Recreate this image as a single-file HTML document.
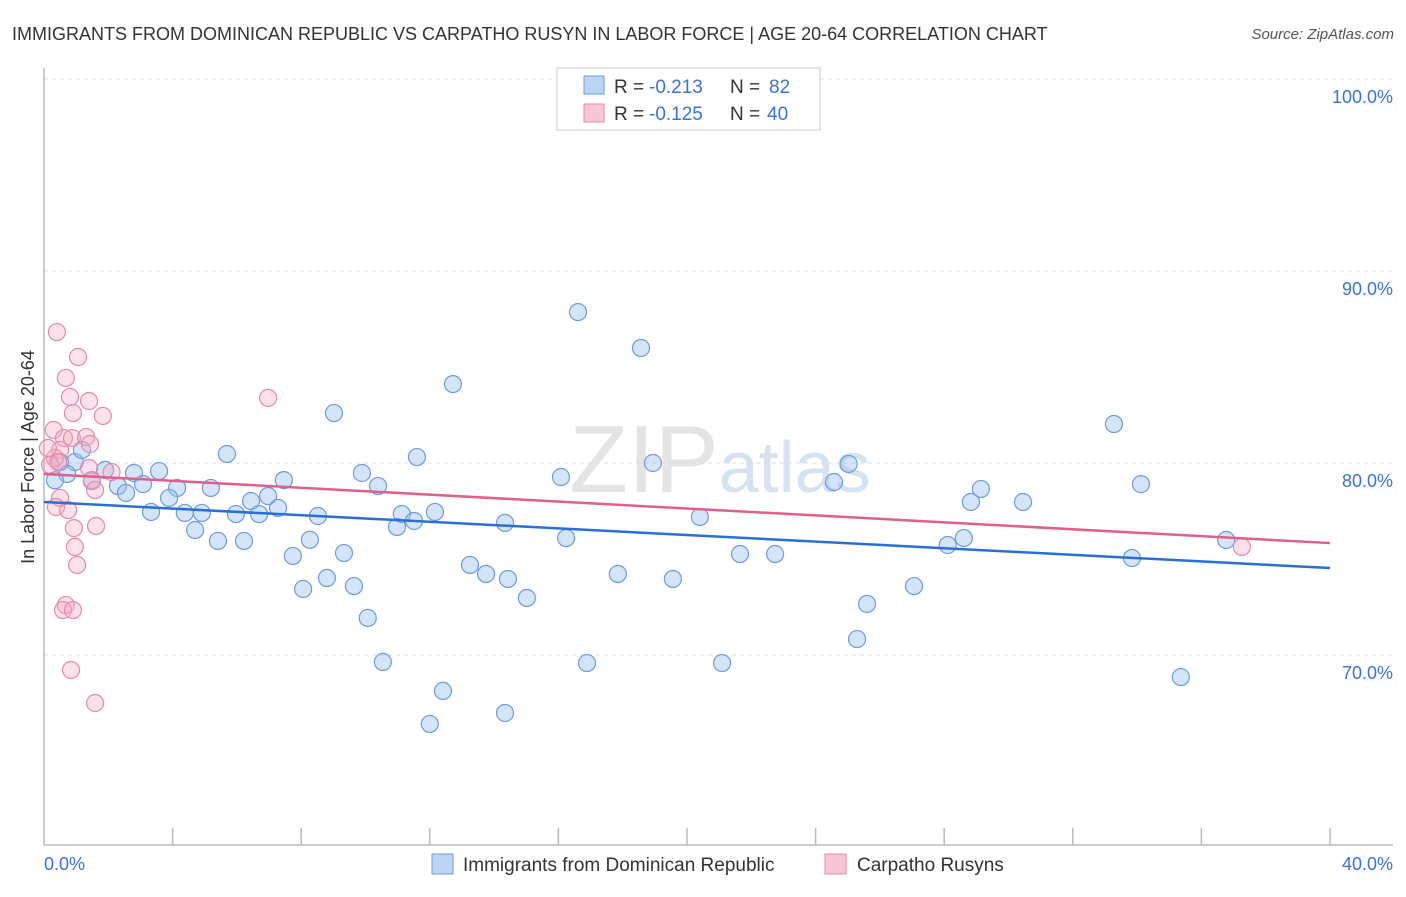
<!DOCTYPE html>
<html><head><meta charset="utf-8"><style>
body{margin:0;background:#fff;font-family:"Liberation Sans",sans-serif}
svg text{font-family:"Liberation Sans",sans-serif}
</style></head><body>
<svg width="1406" height="892">
<text x="12" y="40" font-size="18" fill="#333">IMMIGRANTS FROM DOMINICAN REPUBLIC VS CARPATHO RUSYN IN LABOR FORCE | AGE 20-64 CORRELATION CHART</text>
<text x="1394" y="39" font-size="15" fill="#555" font-style="italic" text-anchor="end">Source: ZipAtlas.com</text>
<text x="720" y="492" font-size="96" fill="#e4e4e4" text-anchor="middle" font-family="Liberation Serif">ZIP<tspan fill="#d6e2f2" font-family="Liberation Sans" font-size="72">atlas</tspan></text>
<g id="grid"></g>
<g id="axes"></g>
<text transform="translate(34,457) rotate(-90)" font-size="18" fill="#333" text-anchor="middle">In Labor Force | Age 20-64</text>
<text x="44" y="870" font-size="18" fill="#3b74d4">0.0%</text>
<text x="1393" y="870" font-size="18" fill="#3b74d4" text-anchor="end">40.0%</text>
<g id="pts"></g>
<g id="lines"></g>
<g>
<rect x="557" y="68" width="263" height="62" fill="#fff" stroke="#ccc"/>
<rect x="584" y="76" width="20" height="18" fill="#bcd4f4" stroke="#6d9be0"/>
<rect x="584" y="104" width="20" height="18" fill="#f9c6d5" stroke="#e88aa8"/>
<text x="614" y="93" font-size="19" fill="#333">R =</text>
<text x="649" y="93" font-size="19" fill="#3b74d4">-0.213</text>
<text x="730" y="93" font-size="19" fill="#333">N =</text>
<text x="769" y="93" font-size="19" fill="#3b74d4">82</text>
<text x="614" y="120" font-size="19" fill="#333">R =</text>
<text x="649" y="120" font-size="19" fill="#3b74d4">-0.125</text>
<text x="730" y="120" font-size="19" fill="#333">N =</text>
<text x="767" y="120" font-size="19" fill="#3b74d4">40</text>
</g>
<g>
<rect x="432" y="854" width="21" height="20" fill="#bcd4f4" stroke="#6d9be0"/>
<text x="463" y="871" font-size="19" fill="#333">Immigrants from Dominican Republic</text>
<rect x="825" y="854" width="21" height="20" fill="#f9c6d5" stroke="#e88aa8"/>
<text x="857" y="871" font-size="19" fill="#333">Carpatho Rusyns</text>
</g>
</svg>
<script>
const yTicks=[100,90,80,70];
const yTickLabels=["100.0%","90.0%","80.0%","70.0%"];
const xTicks=[4,8,12,16,20,24,28,32,36,40];
const blueX=[16.61,18.57,12.72,9.02,33.28,5.69,11.6,18.94,25.03,0.5,0.96,1.18,1.9,2.8,3.58,0.72,9.89,16.08,7.46,1.49,2.3,3.08,4.14,5.19,24.57,34.12,10.39,29.14,2.55,3.89,6.97,6.44,30.45,28.83,7.28,3.33,4.38,4.91,5.97,6.69,11.13,12.16,8.52,20.4,14.34,11.51,10.98,4.7,16.24,5.41,6.22,8.27,28.61,28.11,36.77,7.74,9.33,21.65,22.74,33.84,13.25,13.75,8.8,14.43,17.85,19.56,9.64,8.06,27.06,15.02,25.6,10.07,25.29,10.54,16.89,21.09,35.36,12.41,14.34,12.0,0.34];
const blueY=[87.86,85.99,84.11,82.6,82.03,80.47,80.31,80.0,79.95,80.05,80.05,80.68,79.64,79.48,79.58,79.43,79.48,79.27,79.11,79.06,78.8,78.9,78.7,78.7,79.01,78.9,78.8,78.65,78.44,78.18,78.28,78.02,77.97,77.97,77.66,77.45,77.4,77.4,77.34,77.34,77.34,77.45,77.24,77.19,76.88,76.98,76.67,76.51,76.09,75.94,75.94,76.0,76.09,75.73,75.99,75.16,75.31,75.26,75.26,75.05,74.69,74.22,74.01,73.96,74.22,73.96,73.59,73.44,73.59,72.97,72.66,71.93,70.83,69.64,69.58,69.58,68.85,68.13,66.98,66.41,79.1];
const pinkX=[0.4,1.06,0.68,0.81,1.4,6.97,0.9,1.83,0.3,0.62,0.87,1.31,1.43,0.5,0.34,0.19,0.44,2.1,1.4,1.49,1.59,0.5,0.37,0.75,1.62,0.93,0.96,1.03,0.68,0.59,0.9,0.84,1.59,37.26,0.12];
const pinkY=[86.82,85.52,84.43,83.44,83.23,83.39,82.6,82.45,81.72,81.3,81.3,81.35,80.99,80.68,80.26,79.9,80.05,79.53,79.74,79.11,78.59,78.18,77.71,77.55,76.72,76.61,75.63,74.69,72.6,72.34,72.34,69.22,67.5,75.63,80.78];
const blueTrend=[77.97,74.53];
const pinkTrend=[79.43,75.83];
const X=v=>44+v/40*1286, Y=v=>79+(100-v)*19.2;
const NS="http://www.w3.org/2000/svg";
function mk(tag,a,p){const e=document.createElementNS(NS,tag);for(const k in a)e.setAttribute(k,a[k]);document.getElementById(p).appendChild(e);return e;}
yTicks.forEach((t,i)=>{
 const l=mk('line',{x1:44,x2:1393,y1:Y(t),y2:Y(t),stroke:'#ddd','stroke-dasharray':'4,4'},'grid');
 
 
 const tx=mk('text',{x:1393,y:Y(t)+24,'font-size':18,fill:'#3b74d4','text-anchor':'end'},'grid');
 tx.textContent=yTickLabels[i];
 
 
});
const ax=mk('line',{x1:44,x2:44,y1:68,y2:845,stroke:'#bbb','stroke-width':1.5},'axes');


const bx=mk('line',{x1:44,x2:1393,y1:845,y2:845,stroke:'#bbb','stroke-width':1.5},'axes');


xTicks.forEach(t=>{
 const l=mk('line',{x1:X(t),x2:X(t),y1:828,y2:845,stroke:'#bbb','stroke-width':1.5},'axes');
 
 
});
blueX.forEach((x,i)=>{
 const c=mk('circle',{cx:X(x),cy:Y(blueY[i]),r:8.5,fill:'rgba(150,190,240,0.4)',stroke:'#6d9be0','stroke-width':1.2},'pts');
 
 
});
pinkX.forEach((x,i)=>{
 const c=mk('circle',{cx:X(x),cy:Y(pinkY[i]),r:8.5,fill:'rgba(245,170,195,0.35)',stroke:'#e88aa8','stroke-width':1.2},'pts');
 
 
});
const bl=mk('line',{x1:X(0),x2:X(40),y1:Y(blueTrend[0]),y2:Y(blueTrend[1]),stroke:'#2a6fd6','stroke-width':2.5},'lines');


const pl=mk('line',{x1:X(0),x2:X(40),y1:Y(pinkTrend[0]),y2:Y(pinkTrend[1]),stroke:'#e0608a','stroke-width':2.5},'lines');


</script>
</body></html>
